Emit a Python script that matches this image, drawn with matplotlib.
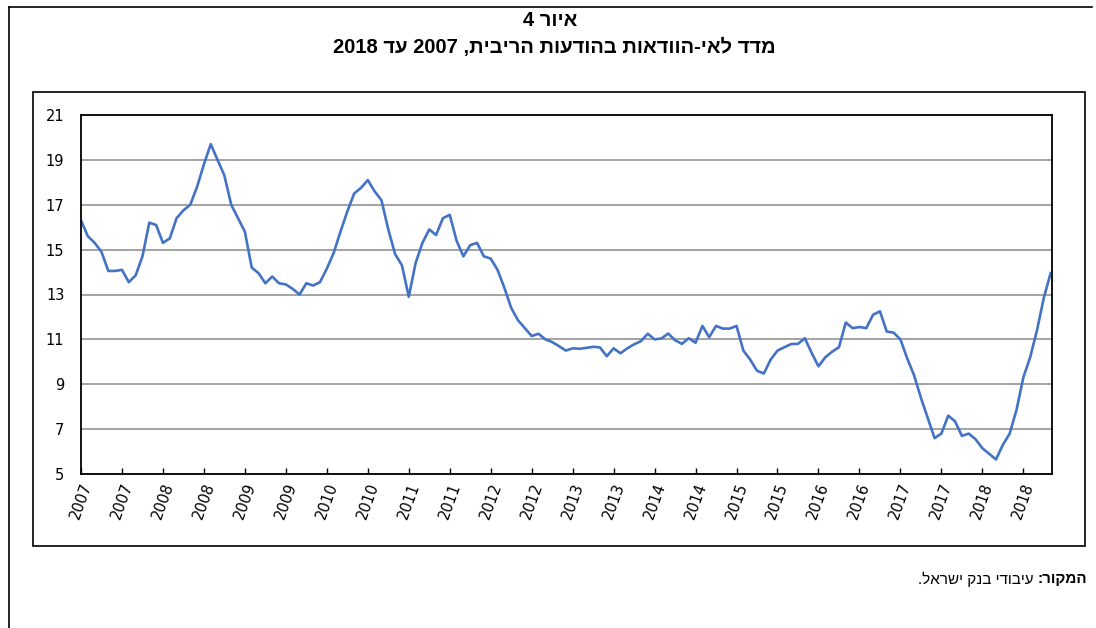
import re
import matplotlib
matplotlib.use("Agg")
import matplotlib.pyplot as plt
from matplotlib.patches import Rectangle
from matplotlib.lines import Line2D

# ---------------- data ----------------
# monthly uncertainty index, Jan 2007 .. Nov 2018
values = [
    16.3, 15.6, 15.3, 14.9, 14.05, 14.05, 14.1, 13.55, 13.85, 14.7, 16.2, 16.1,   # 2007
    15.3, 15.5, 16.4, 16.75, 17.0, 17.8, 18.8, 19.7, 19.0, 18.3, 17.0, 16.4,      # 2008
    15.8, 14.2, 13.95, 13.5, 13.8, 13.5, 13.45, 13.25, 13.0, 13.5, 13.4, 13.55,   # 2009
    14.15, 14.85, 15.8, 16.7, 17.5, 17.75, 18.1, 17.6, 17.2, 15.9, 14.8, 14.3,    # 2010
    12.9, 14.4, 15.3, 15.9, 15.65, 16.4, 16.55, 15.4, 14.7, 15.2, 15.3, 14.7,     # 2011
    14.6, 14.1, 13.3, 12.4, 11.85, 11.5, 11.15, 11.25, 11.0, 10.88, 10.7, 10.5,   # 2012
    10.6, 10.58, 10.62, 10.67, 10.64, 10.25, 10.6, 10.38, 10.6, 10.78, 10.92, 11.25,  # 2013
    11.0, 11.04, 11.26, 10.96, 10.8, 11.05, 10.85, 11.6, 11.1, 11.6, 11.48, 11.48,    # 2014
    11.6, 10.5, 10.1, 9.6, 9.48, 10.1, 10.5, 10.65, 10.79, 10.8, 11.05, 10.4,     # 2015
    9.8, 10.2, 10.45, 10.65, 11.75, 11.5, 11.55, 11.5, 12.1, 12.25, 11.35, 11.3,  # 2016
    11.0, 10.15, 9.4, 8.4, 7.5, 6.6, 6.8, 7.6, 7.35, 6.7, 6.8, 6.55,              # 2017
    6.15, 5.9, 5.65, 6.3, 6.8, 7.85, 9.3, 10.2, 11.4, 12.85, 13.95,               # 2018
]
first_year = 2007
tick_labels = [str(first_year + i // 2) for i in range(24)]   # semi-annual labels
y_ticks = list(range(5, 22, 2))

title_line1 = "איור 4"
title_line2 = "מדד לאי-הוודאות בהודעות הריבית, 2007 עד 2018"
source_bold = "המקור:"
source_text = "עיבודי בנק ישראל."


def visual(s):
    """Convert logical RTL Hebrew string to visual (LTR) order, keeping digit runs."""
    r = s[::-1]
    return re.sub(r"\d+", lambda m: m.group(0)[::-1], r)


# ---------------- figure ----------------
W, H = 1096, 628
plt.rcParams["font.family"] = ["Liberation Sans", "DejaVu Sans"]
fig = plt.figure(figsize=(W / 100, H / 100), dpi=100)
fig.patch.set_facecolor("white")


def fx(x):
    return x / W


def fy(y):
    return 1 - y / H


# frames (decoration)
fig.add_artist(Line2D([fx(9), fx(9)], [fy(7), fy(628)], color="black", lw=1.2))
fig.add_artist(Line2D([fx(9), fx(1092)], [fy(7), fy(7)], color="black", lw=1.2))
fig.add_artist(Rectangle((fx(33), fy(546)), fx(1085) - fx(33), fy(92) - fy(546),
                         fill=False, edgecolor="black", lw=1.2))

ax = fig.add_axes([fx(81), fy(474), fx(1052) - fx(81), fy(115) - fy(474)])
months = list(range(len(values)))
ax.plot(months, values, color="#4472C4", lw=1.9, solid_joinstyle="round")

ax.set_xlim(0, 142.2)
ax.set_ylim(5, 21)
ax.set_yticks(y_ticks)
ax.set_yticklabels([str(v) for v in y_ticks], fontsize=10.5, family="DejaVu Sans")
ax.yaxis.grid(True, color="#8a8a8a", lw=1.1)
ax.set_axisbelow(True)
ax.tick_params(axis="y", length=0, pad=12)

xt = [i * 6 for i in range(len(tick_labels))]
ax.set_xticks(xt)
ax.set_xticklabels(tick_labels, rotation=70, ha="center", va="top",
                   fontsize=10.5, family="DejaVu Sans")
ax.tick_params(axis="x", direction="in", length=4, width=1, pad=5)

for s in ax.spines.values():
    s.set_color("black")
    s.set_linewidth(1.3)

# titles
fig.text(fx(550), fy(20), visual(title_line1), ha="center", va="center",
         fontsize=14.5, fontweight="bold")
fig.text(fx(554), fy(47), visual(title_line2), ha="center", va="center",
         fontsize=14.5, fontweight="bold")

# source
tb = fig.text(fx(1087), fy(579), visual(source_bold), ha="right", va="center",
              fontsize=11, fontweight="bold")
ax.annotate(visual(source_text), xy=(0, 0.5), xycoords=tb,
            xytext=(-3, 0), textcoords="offset points",
            ha="right", va="center", fontsize=11, annotation_clip=False)

fig.savefig("out.png", dpi=100, facecolor="white")
